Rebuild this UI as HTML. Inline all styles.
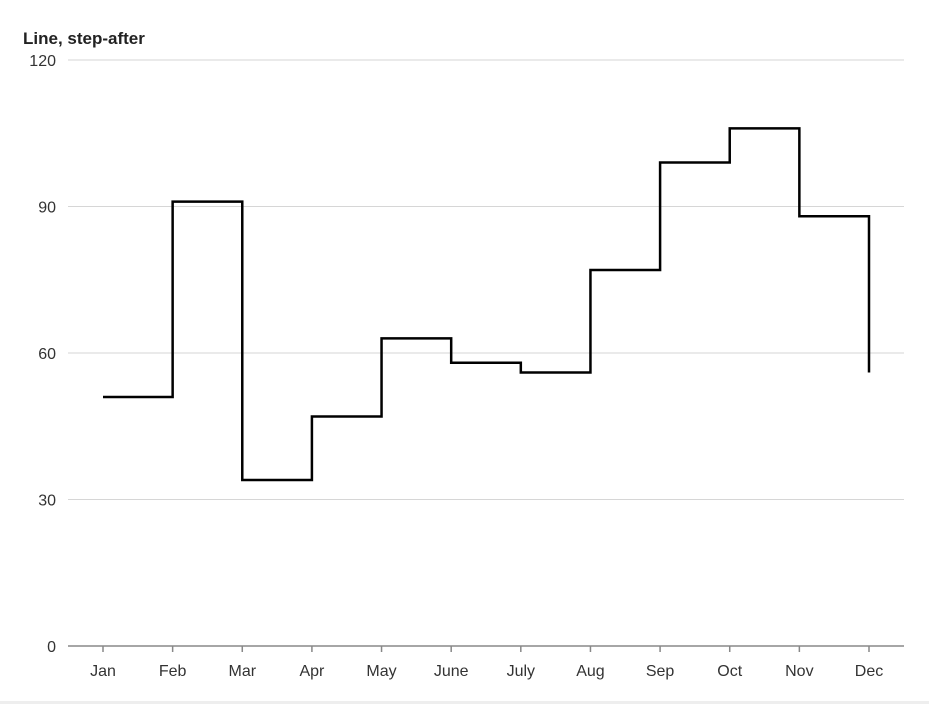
<!DOCTYPE html>
<html><head><meta charset="utf-8"><style>
body{margin:0;background:#fff;width:929px;height:704px;overflow:hidden;font-family:"Liberation Sans",sans-serif}
</style></head><body>
<svg width="929" height="704" xmlns="http://www.w3.org/2000/svg">
<rect x="0" y="701" width="929" height="3" fill="#eeeeee"/>
<text x="23" y="44" font-size="17" font-weight="bold" fill="#222">Line, step-after</text>
<g id="grid"></g><g id="xaxis"></g>
<path id="line" fill="none" stroke="#000" stroke-width="2.5"/>
</svg>
<script>
const categories=["Jan","Feb","Mar","Apr","May","June","July","Aug","Sep","Oct","Nov","Dec"];
const values=[51,91,34,47,63,58,56,77,99,106,88,56];
const yTicks=[0,30,60,90,120];
const ns="http://www.w3.org/2000/svg";
const x0=103,x1=869,yb=646,yt=60,ymax=120;
const xs=i=>x0+i*(x1-x0)/(categories.length-1);
const ys=v=>yb-v*(yb-yt)/ymax;
const grid=document.getElementById('grid'),xa=document.getElementById('xaxis');
function mk(tag,attrs,parent){const e=document.createElementNS(ns,tag);for(const k in attrs)e.setAttribute(k,attrs[k]);parent.appendChild(e);return e;}
yTicks.forEach(t=>{
 if(t>0){const l=mk('line',{x1:68,x2:904,y1:ys(t),y2:ys(t),stroke:'#d6d6d6','stroke-width':1},grid);
 
 }
 const tx=mk('text',{x:56,y:ys(t)+6,'text-anchor':'end','font-size':16,fill:'#333'},grid);tx.textContent=t;
 
 
});
const ax=mk('line',{x1:68,x2:904,y1:yb,y2:yb,stroke:'#888','stroke-width':1.5},xa);


categories.forEach((c,i)=>{
 const tk=mk('line',{x1:xs(i),x2:xs(i),y1:yb,y2:yb+6,stroke:'#888','stroke-width':1.5},xa);
 
 
 const tx=mk('text',{x:xs(i),y:yb+30,'text-anchor':'middle','font-size':16,fill:'#333'},xa);tx.textContent=c;
 
 
});
let d='M'+xs(0)+','+ys(values[0]);
for(let i=1;i<values.length;i++){d+=' H'+xs(i)+' V'+ys(values[i]);}
document.getElementById('line').setAttribute('d',d);
</script>
</body></html>
